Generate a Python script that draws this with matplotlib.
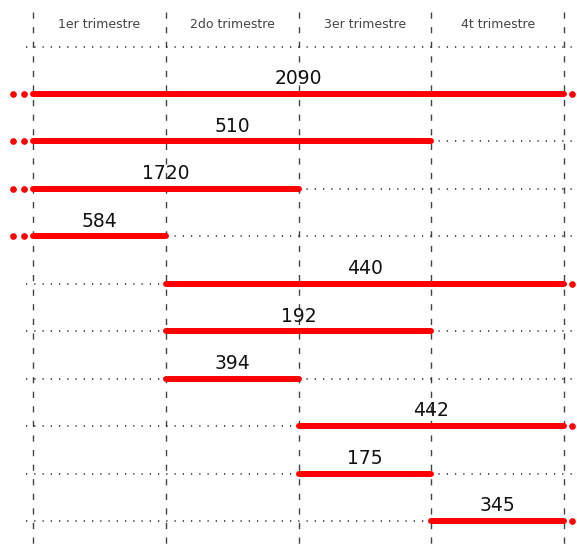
import matplotlib
matplotlib.use("Agg")
import matplotlib.pyplot as plt

quarters = ["1er trimestre", "2do trimestre", "3er trimestre", "4t trimestre"]
starts = [0, 0, 0, 0, 1, 1, 1, 2, 2, 3]
ends = [4, 3, 2, 1, 4, 3, 2, 4, 3, 4]
values = [2090, 510, 1720, 584, 440, 192, 394, 442, 175, 345]

W, H = 577, 548
fig = plt.figure(figsize=(W / 100, H / 100), dpi=100)
ax = fig.add_axes([0, 0, 1, 1])
ax.set_axis_off()

px_unit = 132.75
x0 = 33
row_px = 47.44
y0 = 94
ax.set_xlim(-x0 / px_unit, (W - x0) / px_unit)
ax.set_ylim((H - y0) / row_px, -y0 / row_px)

n = len(values)
# vertical dashed lines
for q in range(len(quarters) + 1):
    ax.plot([q, q], [(12 - y0) / row_px, (H - y0) / row_px], color="#444444",
            lw=1.0, linestyle=(0, (4.5, 6)), zorder=1)

# quarter labels
for i, lab in enumerate(quarters):
    ax.text(i + 0.5, (24 - y0) / row_px, lab, ha="center", va="center",
            fontsize=9, color="#444444")

# dotted row guides
right = (W - x0) / px_unit
for r in [-1] + list(range(n)):
    ax.plot([-0.05, right], [r, r], color="#222222", lw=1.1,
            linestyle=(0, (0.8, 4.6)), zorder=1)

# red segments
for r, (s, e, v) in enumerate(zip(starts, ends, values)):
    ax.plot([s, e], [r, r], color="#ff0000", lw=4.3, solid_capstyle="round", zorder=3)
    ax.text((s + e) / 2, r - 0.12, str(v), ha="center", va="bottom",
            fontsize=13.5, color="#111111", zorder=4)
    if s == 0:
        ax.plot([-0.15, -0.068], [r, r], linestyle="none", marker="o",
                color="#ff0000", markersize=4.8, markeredgewidth=0, zorder=3)
    if e == 4:
        ax.plot([4.06], [r], linestyle="none", marker="o",
                color="#ff0000", markersize=4.8, markeredgewidth=0, zorder=3)

fig.savefig("out.png", dpi=100)
